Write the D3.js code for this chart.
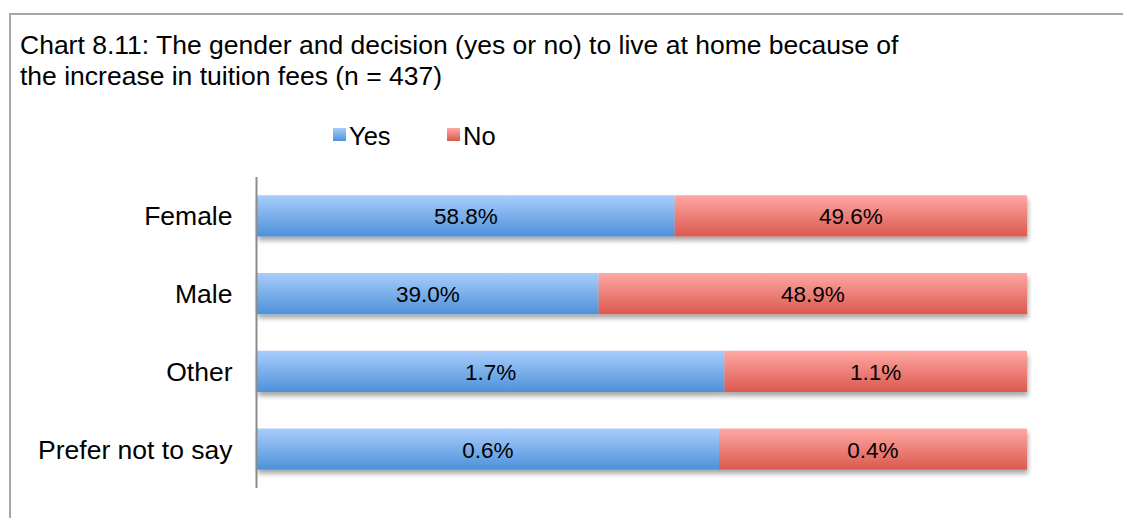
<!DOCTYPE html>
<html><head><meta charset="utf-8">
<script src="https://cdn.jsdelivr.net/npm/d3@7"></script>
<style>html,body{margin:0;padding:0;background:#fff;}svg{display:block;font-family:"Liberation Sans",Arial,sans-serif;}</style>
</head><body>
<svg id="c" width="1123" height="518"></svg>
<script>
const categories = ["Female", "Male", "Other", "Prefer not to say"];
const yesValues = [58.8, 39.0, 1.7, 0.6];
const noValues = [49.6, 48.9, 1.1, 0.4];
const seriesNames = ["Yes", "No"];
const titleLines = ["Chart 8.11: The gender and decision (yes or no) to live at home because of", "the increase in tuition fees (n = 437)"];

const svg = d3.select("#c");
const W = 1123, H = 518;
const defs = svg.append("defs");
const gradStops = {Yes: ["#a9cdfc", "#4d91d9"], No: ["#ffa8a4", "#db584e"]};
Object.entries(gradStops).forEach(([k, c]) => {
  const g = defs.append("linearGradient").attr("id", "g" + k).attr("x1", 0).attr("y1", 0).attr("x2", 0).attr("y2", 1);
  g.append("stop").attr("offset", "0%").attr("stop-color", c[0]);
  g.append("stop").attr("offset", "100%").attr("stop-color", c[1]);
});
const f = defs.append("filter").attr("id", "sh").attr("x", "-5%").attr("y", "-20%").attr("width", "110%").attr("height", "160%");
f.append("feGaussianBlur").attr("in", "SourceAlpha").attr("stdDeviation", 2.5).attr("result", "b");
f.append("feOffset").attr("in", "b").attr("dx", 1).attr("dy", 4).attr("result", "o");
f.append("feComponentTransfer").attr("in", "o").attr("result", "o2").append("feFuncA").attr("type", "linear").attr("slope", 0.35);
const m = f.append("feMerge");
m.append("feMergeNode").attr("in", "o2");
m.append("feMergeNode").attr("in", "SourceGraphic");

// frame
svg.append("rect").attr("x", 10).attr("y", 14).attr("width", W).attr("height", H).attr("fill", "none").attr("stroke", "#a6a6a6").attr("stroke-width", 2);

// title
svg.append("g").selectAll("text").data(titleLines).join("text")
  .attr("x", 20).attr("y", (d, i) => 54 + i * 31)
  .attr("font-size", 26.5).attr("fill", "#000").text(d => d);

const data = categories.map((c, i) => {
  const t = yesValues[i] + noValues[i];
  return {cat: c, yes: yesValues[i], no: noValues[i], yesF: yesValues[i] / t, noF: noValues[i] / t};
});

const x = d3.scaleLinear().domain([0, 1]).range([257, 1027]);
const y = d3.scaleBand().domain(categories).range([177, 488]).paddingInner(0.47).paddingOuter(0.235);

// bars
const bars = svg.append("g");
data.forEach(d => {
  const g = bars.append("g").attr("filter", "url(#sh)");
  g.append("rect").attr("x", x(0)).attr("y", y(d.cat)).attr("width", x(d.yesF) - x(0)).attr("height", y.bandwidth()).attr("fill", "url(#gYes)");
  g.append("rect").attr("x", x(d.yesF)).attr("y", y(d.cat)).attr("width", x(1) - x(d.yesF)).attr("height", y.bandwidth()).attr("fill", "url(#gNo)");
});
// value labels
const lab = svg.append("g").attr("font-size", 22.5).attr("text-anchor", "middle").attr("fill", "#000");
data.forEach(d => {
  const cy = y(d.cat) + y.bandwidth() / 2 + 8.5;
  lab.append("text").attr("x", (x(0) + x(d.yesF)) / 2).attr("y", cy).text(d.yes.toFixed(1) + "%");
  lab.append("text").attr("x", (x(d.yesF) + x(1)) / 2).attr("y", cy).text(d.no.toFixed(1) + "%");
});

// axis
const ax = svg.append("g").attr("transform", "translate(256.5,0)").call(d3.axisLeft(y).tickSize(0).tickPadding(24));
ax.select(".domain").attr("stroke", "#8c8c8c").attr("stroke-width", 2).attr("d", "M0,177V488");
ax.selectAll("text").attr("font-size", 26.5).attr("fill", "#000").attr("font-family", "'Liberation Sans',Arial,sans-serif").attr("dy", "0.36em");

// legend
const leg = svg.append("g");
const legX = [333, 447];
seriesNames.forEach((s, i) => {
  leg.append("rect").attr("x", legX[i]).attr("y", 128).attr("width", 13).attr("height", 13).attr("fill", "url(#g" + s + ")");
  leg.append("text").attr("x", legX[i] + 16).attr("y", 145).attr("font-size", 25.5).attr("fill", "#000").text(s);
});
</script>
</body></html>
